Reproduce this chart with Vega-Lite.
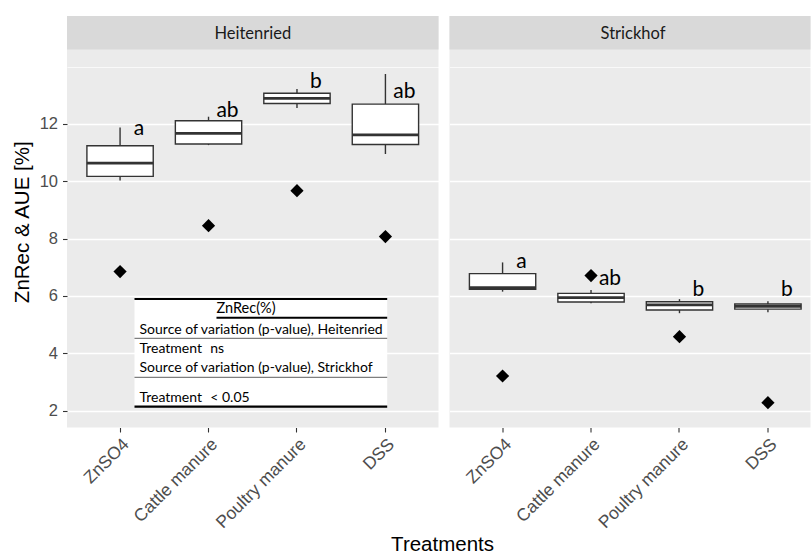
{
  "$schema": "https://vega.github.io/schema/vega-lite/v6.json",
  "background": "white",
  "padding": {"left": 12, "top": 16, "right": 0, "bottom": 0},
  "datasets": {
    "boxes": [
      {"site": "Heitenried", "treatment": "ZnSO4", "lower": 10.03, "q1": 10.17, "median": 10.63, "q3": 11.24, "upper": 11.87, "aue": 6.85, "letter": "a", "letter_y": 11.61},
      {"site": "Heitenried", "treatment": "Cattle manure", "lower": 11.26, "q1": 11.30, "median": 11.67, "q3": 12.11, "upper": 12.25, "aue": 8.45, "letter": "ab", "letter_y": 12.25},
      {"site": "Heitenried", "treatment": "Poultry manure", "lower": 12.55, "q1": 12.71, "median": 12.89, "q3": 13.07, "upper": 13.22, "aue": 9.67, "letter": "b", "letter_y": 13.24},
      {"site": "Heitenried", "treatment": "DSS", "lower": 10.95, "q1": 11.28, "median": 11.62, "q3": 12.69, "upper": 13.74, "aue": 8.07, "letter": "ab", "letter_y": 12.89},
      {"site": "Strickhof", "treatment": "ZnSO4", "lower": 6.15, "q1": 6.23, "median": 6.29, "q3": 6.78, "upper": 7.17, "aue": 3.21, "letter": "a", "letter_y": 6.97},
      {"site": "Strickhof", "treatment": "Cattle manure", "lower": 5.75, "q1": 5.79, "median": 5.94, "q3": 6.09, "upper": 6.21, "aue": 6.71, "letter": "ab", "letter_y": 6.38},
      {"site": "Strickhof", "treatment": "Poultry manure", "lower": 5.40, "q1": 5.51, "median": 5.69, "q3": 5.80, "upper": 5.89, "aue": 4.58, "letter": "b", "letter_y": 6.0},
      {"site": "Strickhof", "treatment": "DSS", "lower": 5.43, "q1": 5.54, "median": 5.64, "q3": 5.72, "upper": 5.82, "aue": 2.28, "letter": "b", "letter_y": 6.0}
    ],
    "sites": [{"site": "Heitenried"}, {"site": "Strickhof"}]
  },
  "title": {
    "text": "Treatments",
    "orient": "bottom",
    "anchor": "middle",
    "font": "Liberation Sans",
    "fontSize": 20.5,
    "fontWeight": "normal",
    "color": "black",
    "offset": 4,
    "dx": 26
  },
  "spacing": 10.5,
  "hconcat": [
    {
      "width": 371.5,
      "height": 411.5,
      "resolve": {"scale": {"x": "independent"}},
      "layer": [
        {
          "data": {"name": "sites"},
          "transform": [{"filter": "datum.site === 'Heitenried'"}],
          "layer": [
            {"mark": {"type": "rect", "fill": "#D9D9D9"},
             "encoding": {"y": {"datum": 14.594, "type": "quantitative"}, "y2": {"datum": 15.762}}},
            {"mark": {"type": "text", "font": "Lato", "fontSize": 16.5, "color": "#1A1A1A", "baseline": "middle", "align": "center", "dy": 1.5},
             "encoding": {"y": {"datum": 15.178, "type": "quantitative"}, "text": {"field": "site"}}}
          ]
        },
        {
          "data": {"name": "boxes"},
          "transform": [{"filter": "datum.site === 'Heitenried'"}],
          "layer": [
            {"mark": {"type": "rule", "color": "#333333", "strokeWidth": 1.4},
             "encoding": {
               "x": {"field": "treatment", "type": "nominal",
                     "scale": {"type": "band", "domain": ["ZnSO4", "Cattle manure", "Poultry manure", "DSS"], "paddingInner": 0, "paddingOuter": 0.1},
                     "axis": {"title": null, "labelAngle": -45, "labelAlign": "right", "labelBaseline": "top", "labelPadding": 3, "labelFontSize": 17.5, "grid": false, "domain": false}},
               "y": {"field": "lower", "type": "quantitative",
                     "scale": {"domain": [1.414, 15.762], "nice": false, "zero": false},
                     "axis": {"title": "ZnRec & AUE [%]", "values": [2, 3, 4, 5, 6, 7, 8, 9, 10, 11, 12, 13, 14],
                              "labelExpr": "datum.value % 2 == 0 && datum.value <= 12 ? datum.label : ''",
                              "tickOpacity": {"condition": {"test": "datum.value % 2 == 0 && datum.value <= 12", "value": 1}, "value": 0},
                              "gridWidth": {"condition": {"test": "datum.value % 2 == 0 && datum.value <= 12", "value": 1.4}, "value": 0.7},
                              "grid": true, "domain": false, "labelPadding": 5, "titlePadding": 7}},
               "y2": {"field": "upper"}
             }},
            {"mark": {"type": "bar", "fill": "white", "stroke": "#333333", "strokeWidth": 1.4, "width": {"band": 0.75}},
             "encoding": {
               "x": {"field": "treatment", "type": "nominal", "scale": {"type": "band"}},
               "y": {"field": "q1", "type": "quantitative", "scale": {"zero": false}},
               "y2": {"field": "q3"}
             }},
            {"mark": {"type": "tick", "orient": "horizontal", "color": "#333333", "thickness": 2.8, "size": 66.3, "opacity": 1},
             "encoding": {
               "x": {"field": "treatment", "type": "nominal", "scale": {"type": "band"}},
               "y": {"field": "median", "type": "quantitative"}
             }},
            {"mark": {"type": "point", "shape": "diamond", "filled": true, "color": "black", "size": 175, "opacity": 1},
             "encoding": {
               "x": {"field": "treatment", "type": "nominal", "scale": {"type": "band"}},
               "y": {"field": "aue", "type": "quantitative"}
             }},
            {"mark": {"type": "text", "font": "Lato", "fontSize": 21, "color": "black", "align": "center", "baseline": "alphabetic", "dx": 19},
             "encoding": {
               "x": {"field": "treatment", "type": "nominal", "scale": {"type": "band"}},
               "y": {"field": "letter_y", "type": "quantitative"},
               "text": {"field": "letter"}
             }}
          ]
        },
        {
          "data": {"values": [{}]},
          "layer": [
            {"mark": {"type": "rect", "fill": "white"},
             "encoding": {
               "x": {"datum": 1.163, "type": "quantitative", "scale": {"domain": [0.4, 4.6], "nice": false, "zero": false}, "axis": null},
               "x2": {"datum": 4.02},
               "y": {"datum": 2.14, "type": "quantitative"}, "y2": {"datum": 5.895}
             }},
            {"mark": {"type": "rule", "color": "black", "strokeWidth": 2.2},
             "encoding": {"x": {"datum": 1.163, "type": "quantitative", "axis": null}, "x2": {"datum": 4.02}, "y": {"datum": 5.895, "type": "quantitative"}}},
            {"mark": {"type": "rule", "color": "black", "strokeWidth": 2},
             "encoding": {"x": {"datum": 2.09, "type": "quantitative", "axis": null}, "x2": {"datum": 4.02}, "y": {"datum": 5.243, "type": "quantitative"}}},
            {"mark": {"type": "rule", "color": "#7F7F7F", "strokeWidth": 1.3},
             "encoding": {"x": {"datum": 1.163, "type": "quantitative", "axis": null}, "x2": {"datum": 4.02}, "y": {"datum": 4.524, "type": "quantitative"}}},
            {"mark": {"type": "rule", "color": "#7F7F7F", "strokeWidth": 1.3},
             "encoding": {"x": {"datum": 1.163, "type": "quantitative", "axis": null}, "x2": {"datum": 4.02}, "y": {"datum": 3.165, "type": "quantitative"}}},
            {"mark": {"type": "rule", "color": "black", "strokeWidth": 2.2},
             "encoding": {"x": {"datum": 1.163, "type": "quantitative", "axis": null}, "x2": {"datum": 4.02}, "y": {"datum": 2.14, "type": "quantitative"}}},
            {"mark": {"type": "text", "font": "Lato", "fontSize": 14.5, "color": "black", "align": "left", "baseline": "alphabetic"},
             "encoding": {"x": {"datum": 2.09, "type": "quantitative", "axis": null}, "y": {"datum": 5.396, "type": "quantitative"}, "text": {"value": "ZnRec(%)"}}},
            {"mark": {"type": "text", "font": "Lato", "fontSize": 14, "color": "black", "align": "left", "baseline": "alphabetic"},
             "encoding": {"x": {"datum": 1.22, "type": "quantitative", "axis": null}, "y": {"datum": 4.674, "type": "quantitative"}, "text": {"value": "Source of variation (p-value), Heitenried"}}},
            {"mark": {"type": "text", "font": "Lato", "fontSize": 14, "color": "black", "align": "left", "baseline": "alphabetic"},
             "encoding": {"x": {"datum": 1.22, "type": "quantitative", "axis": null}, "y": {"datum": 4.0, "type": "quantitative"}, "text": {"value": "Treatment"}}},
            {"mark": {"type": "text", "font": "Lato", "fontSize": 14, "color": "black", "align": "left", "baseline": "alphabetic"},
             "encoding": {"x": {"datum": 2.02, "type": "quantitative", "axis": null}, "y": {"datum": 4.0, "type": "quantitative"}, "text": {"value": "ns"}}},
            {"mark": {"type": "text", "font": "Lato", "fontSize": 14, "color": "black", "align": "left", "baseline": "alphabetic"},
             "encoding": {"x": {"datum": 1.22, "type": "quantitative", "axis": null}, "y": {"datum": 3.339, "type": "quantitative"}, "text": {"value": "Source of variation (p-value), Strickhof"}}},
            {"mark": {"type": "text", "font": "Lato", "fontSize": 14, "color": "black", "align": "left", "baseline": "alphabetic"},
             "encoding": {"x": {"datum": 1.22, "type": "quantitative", "axis": null}, "y": {"datum": 2.293, "type": "quantitative"}, "text": {"value": "Treatment"}}},
            {"mark": {"type": "text", "font": "Lato", "fontSize": 14, "color": "black", "align": "left", "baseline": "alphabetic"},
             "encoding": {"x": {"datum": 2.02, "type": "quantitative", "axis": null}, "y": {"datum": 2.293, "type": "quantitative"}, "text": {"value": "< 0.05"}}}
          ]
        }
      ]
    },
    {
      "width": 361,
      "height": 411.5,
      "layer": [
        {
          "data": {"name": "sites"},
          "transform": [{"filter": "datum.site === 'Strickhof'"}],
          "layer": [
            {"mark": {"type": "rect", "fill": "#D9D9D9"},
             "encoding": {"y": {"datum": 14.594, "type": "quantitative"}, "y2": {"datum": 15.762}}},
            {"mark": {"type": "text", "font": "Lato", "fontSize": 16.5, "color": "#1A1A1A", "baseline": "middle", "align": "center", "dx": 3, "dy": 1.5},
             "encoding": {"y": {"datum": 15.178, "type": "quantitative"}, "text": {"field": "site"}}}
          ]
        },
        {
          "data": {"name": "boxes"},
          "transform": [{"filter": "datum.site === 'Strickhof'"}],
          "layer": [
            {"mark": {"type": "rule", "color": "#333333", "strokeWidth": 1.4},
             "encoding": {
               "x": {"field": "treatment", "type": "nominal",
                     "scale": {"type": "band", "domain": ["ZnSO4", "Cattle manure", "Poultry manure", "DSS"], "paddingInner": 0, "paddingOuter": 0.1, "range": [0, 371.5]},
                     "axis": {"title": null, "labelAngle": -45, "labelAlign": "right", "labelBaseline": "top", "labelPadding": 3, "labelFontSize": 17.5, "grid": false, "domain": false}},
               "y": {"field": "lower", "type": "quantitative",
                     "scale": {"domain": [1.414, 15.762], "nice": false, "zero": false},
                     "axis": {"title": null, "values": [2, 3, 4, 5, 6, 7, 8, 9, 10, 11, 12, 13, 14],
                              "labels": false, "ticks": false, "domain": false, "grid": true,
                              "gridWidth": {"condition": {"test": "datum.value % 2 == 0 && datum.value <= 12", "value": 1.4}, "value": 0.7}}},
               "y2": {"field": "upper"}
             }},
            {"mark": {"type": "bar", "fill": "white", "stroke": "#333333", "strokeWidth": 1.4, "width": {"band": 0.75}},
             "encoding": {
               "x": {"field": "treatment", "type": "nominal", "scale": {"type": "band"}},
               "y": {"field": "q1", "type": "quantitative", "scale": {"zero": false}},
               "y2": {"field": "q3"}
             }},
            {"mark": {"type": "tick", "orient": "horizontal", "color": "#333333", "thickness": 2.8, "size": 66.3, "opacity": 1},
             "encoding": {
               "x": {"field": "treatment", "type": "nominal", "scale": {"type": "band"}},
               "y": {"field": "median", "type": "quantitative"}
             }},
            {"mark": {"type": "point", "shape": "diamond", "filled": true, "color": "black", "size": 175, "opacity": 1},
             "encoding": {
               "x": {"field": "treatment", "type": "nominal", "scale": {"type": "band"}},
               "y": {"field": "aue", "type": "quantitative"}
             }},
            {"mark": {"type": "text", "font": "Lato", "fontSize": 21, "color": "black", "align": "center", "baseline": "alphabetic", "dx": 19},
             "encoding": {
               "x": {"field": "treatment", "type": "nominal", "scale": {"type": "band"}},
               "y": {"field": "letter_y", "type": "quantitative"},
               "text": {"field": "letter"}
             }}
          ]
        }
      ]
    }
  ],
  "config": {
    "view": {"fill": "#EBEBEB", "stroke": null},
    "axis": {
      "labelFont": "Liberation Sans",
      "labelFontSize": 16.5,
      "labelColor": "#4D4D4D",
      "tickColor": "#333333",
      "tickSize": 4.5,
      "tickWidth": 1.1,
      "titleFont": "Liberation Sans",
      "titleFontSize": 20.5,
      "titleFontWeight": "normal",
      "titleColor": "black",
      "gridColor": "white"
    }
  }
}
